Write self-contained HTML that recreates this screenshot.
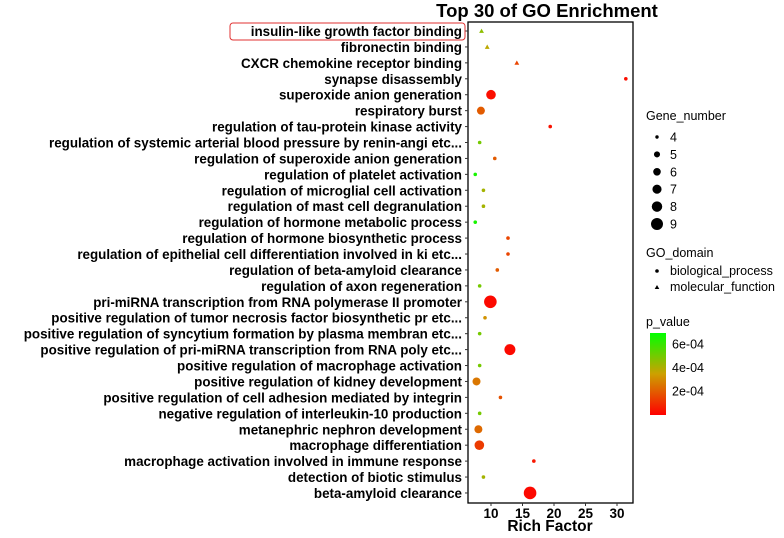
<!DOCTYPE html>
<html><head><meta charset="utf-8"><style>
body{margin:0;background:#fff;}
svg text{font-family:"Liberation Sans",Arial,sans-serif;}
</style></head><body>
<svg id="c" width="784" height="533" viewBox="0 0 784 533">
<text x="547" y="17" text-anchor="middle" font-size="18.5" font-weight="bold">Top 30 of GO Enrichment</text>
<rect x="468" y="22" width="165" height="481" fill="#fff" stroke="#000" stroke-width="1.3"/>
<g id="ylab"></g><g id="xax"></g><g id="pts"></g><g id="leg"></g>
<rect x="230" y="23" width="235" height="17" rx="3" fill="none" stroke="#e03030" stroke-width="1"/>
<text x="550" y="531" text-anchor="middle" font-size="15.5" font-weight="bold">Rich Factor</text>
</svg>
<script>
const terms=["insulin-like growth factor binding","fibronectin binding","CXCR chemokine receptor binding","synapse disassembly","superoxide anion generation","respiratory burst","regulation of tau-protein kinase activity","regulation of systemic arterial blood pressure by renin-angi etc...","regulation of superoxide anion generation","regulation of platelet activation","regulation of microglial cell activation","regulation of mast cell degranulation","regulation of hormone metabolic process","regulation of hormone biosynthetic process","regulation of epithelial cell differentiation involved in ki etc...","regulation of beta-amyloid clearance","regulation of axon regeneration","pri-miRNA transcription from RNA polymerase II promoter","positive regulation of tumor necrosis factor biosynthetic pr etc...","positive regulation of syncytium formation by plasma membran etc...","positive regulation of pri-miRNA transcription from RNA poly etc...","positive regulation of macrophage activation","positive regulation of kidney development","positive regulation of cell adhesion mediated by integrin","negative regulation of interleukin-10 production","metanephric nephron development","macrophage differentiation","macrophage activation involved in immune response","detection of biotic stimulus","beta-amyloid clearance"];
const richFactor=[8.5,9.4,14.1,31.4,10.0,8.4,19.4,8.2,10.6,7.5,8.8,8.8,7.5,12.7,12.7,11.0,8.2,9.9,9.05,8.2,13.0,8.2,7.7,11.5,8.2,8.0,8.15,16.8,8.8,16.2];
const geneNumber=[4,4,4,4,7,6,4,4,4,4,4,4,4,4,4,4,4,9,4,4,8,4,6,4,4,6,7,4,4,9];
const pValue=[4.6e-4,3.8e-4,1.5e-4,0.3e-4,0.3e-4,2.0e-4,0.4e-4,5.0e-4,2.0e-4,6.6e-4,4.2e-4,4.2e-4,6.6e-4,1.5e-4,1.5e-4,2.0e-4,5.0e-4,0.2e-4,3.2e-4,5.0e-4,0.2e-4,5.0e-4,2.6e-4,1.8e-4,5.0e-4,2.3e-4,1.3e-4,0.5e-4,4.2e-4,0.2e-4];
const domain=["MF","MF","MF","BP","BP","BP","BP","BP","BP","BP","BP","BP","BP","BP","BP","BP","BP","BP","BP","BP","BP","BP","BP","BP","BP","BP","BP","BP","BP","BP"];
const xTicks=[10,15,20,25,30];
const sizeLevels=[4,5,6,7,8,9];
const pTicks=[6e-4,4e-4,2e-4];

const NS="http://www.w3.org/2000/svg";
const X=v=>491+(v-10)*6.3;
const Y=i=>31+i*15.93;
const R=n=>({4:1.8,5:3.2,6:4,7:4.8,8:5.5,9:6.3}[n]||2);
function col(p){let t=Math.max(0,Math.min(1,p/7e-4));let a,b,u;
 if(t<0.5){a=[255,0,0];b=[205,160,0];u=t/0.5;}else{a=[205,160,0];b=[0,255,0];u=(t-0.5)/0.5;}
 return `rgb(${a.map((c,k)=>Math.round(c+(b[k]-c)*u)).join(',')})`;}
function mk(tag,at,par){const e=document.createElementNS(NS,tag);for(const k in at)e.setAttribute(k,at[k]);par.appendChild(e);return e;}
const gy=document.getElementById('ylab'),gx=document.getElementById('xax'),gp=document.getElementById('pts'),gl=document.getElementById('leg');
terms.forEach((t,i)=>{
 const tx=mk('text',{x:462,y:Y(i)+5,'text-anchor':'end','font-size':13.4,'font-weight':'bold'},gy);tx.textContent=t;
 
 
 const tk=mk('line',{x1:465,x2:468,y1:Y(i),y2:Y(i),stroke:'#333'},gy);
 
 
 let m;
 if(domain[i]==="MF"){const s=R(geneNumber[i])+0.6,cx=X(richFactor[i]),cy=Y(i);
  m=mk('polygon',{points:`${cx},${cy-s} ${cx-s},${cy+s*0.8} ${cx+s},${cy+s*0.8}`,fill:col(pValue[i])},gp);}
 else m=mk('circle',{cx:X(richFactor[i]),cy:Y(i),r:R(geneNumber[i]),fill:col(pValue[i])},gp);
 
 
});
xTicks.forEach(v=>{
 const l=mk('line',{x1:X(v),x2:X(v),y1:503,y2:506,stroke:'#333'},gx);
 
 
 const t=mk('text',{x:X(v),y:518,'text-anchor':'middle','font-size':13.5,'font-weight':'bold'},gx);t.textContent=v;
 
 
});
let t=mk('text',{x:646,y:120,'font-size':12.5},gl);t.textContent='Gene_number';


sizeLevels.forEach((n,k)=>{const y=137+k*17.4;
 const c=mk('circle',{cx:657,cy:y,r:R(n)*0.95,fill:'#000'},gl);
 
 
 const tt=mk('text',{x:670,y:y+4.5,'font-size':12.5},gl);tt.textContent=n;
 
 
});
t=mk('text',{x:646,y:257,'font-size':12.5},gl);t.textContent='GO_domain';


let c=mk('circle',{cx:657,cy:271,r:1.8,fill:'#000'},gl);


t=mk('text',{x:670,y:275,'font-size':12.5},gl);t.textContent='biological_process';


c=mk('polygon',{points:'657,285 654.7,289 659.3,289',fill:'#000'},gl);


t=mk('text',{x:670,y:291,'font-size':12.5},gl);t.textContent='molecular_function';


t=mk('text',{x:646,y:326,'font-size':12.5},gl);t.textContent='p_value';


const defs=mk('defs',{},gl);const lg=mk('linearGradient',{id:'pg',x1:0,y1:1,x2:0,y2:0},defs);
[0,0.25,0.5,0.75,1].forEach(f=>mk('stop',{offset:f,'stop-color':col(f*7e-4)},lg));
const cb=mk('rect',{x:650,y:333,width:16,height:82,fill:'url(#pg)'},gl);


pTicks.forEach(p=>{const y=415-p/7e-4*82;
 const tt=mk('text',{x:672,y:y+4,'font-size':12.5},gl);tt.textContent=p.toExponential(0).replace('e-','e-0');
 
 
});
</script>
</body></html>
